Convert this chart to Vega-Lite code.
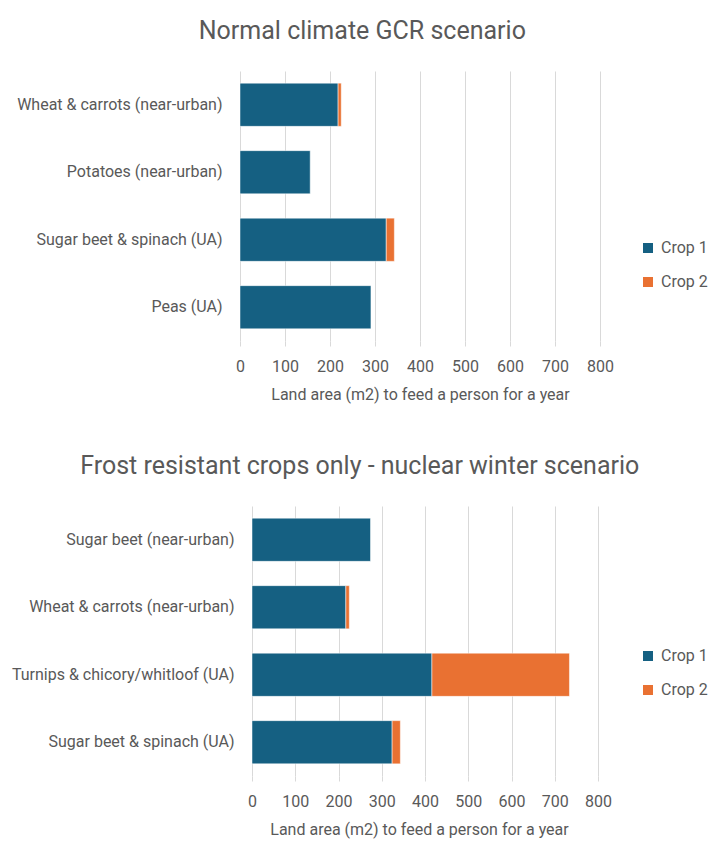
{
  "$schema": "https://vega.github.io/schema/vega-lite/v6.json",
  "background": "white",
  "padding": {"left": 11, "right": 4, "top": 19, "bottom": 6},
  "config": {
    "font": "Roboto",
    "view": {"stroke": null},
    "title": {"fontSize": 25, "fontWeight": "normal", "color": "#595959", "anchor": "middle", "frame": "bounds", "offset": 27},
    "axis": {"labelColor": "#595959", "titleColor": "#595959", "labelFontSize": 16, "titleFontSize": 16, "titleFontWeight": "normal", "gridColor": "#d9d9d9", "tickColor": "#d9d9d9", "domain": false, "labelLimit": 400},
    "legend": {"labelColor": "#595959", "labelFontSize": 16, "symbolType": "square", "symbolSize": 100, "symbolStrokeWidth": 0, "rowPadding": 18, "labelOffset": 5}
  },
  "data": {
    "values": [
      {"panel": "normal", "system": "Wheat & carrots (near-urban)", "crop": "Crop 1", "area": 218},
      {"panel": "normal", "system": "Wheat & carrots (near-urban)", "crop": "Crop 2", "area": 7},
      {"panel": "normal", "system": "Potatoes (near-urban)", "crop": "Crop 1", "area": 156},
      {"panel": "normal", "system": "Sugar beet & spinach (UA)", "crop": "Crop 1", "area": 325},
      {"panel": "normal", "system": "Sugar beet & spinach (UA)", "crop": "Crop 2", "area": 18},
      {"panel": "normal", "system": "Peas (UA)", "crop": "Crop 1", "area": 291},
      {"panel": "winter", "system": "Sugar beet (near-urban)", "crop": "Crop 1", "area": 274},
      {"panel": "winter", "system": "Wheat & carrots (near-urban)", "crop": "Crop 1", "area": 217},
      {"panel": "winter", "system": "Wheat & carrots (near-urban)", "crop": "Crop 2", "area": 8},
      {"panel": "winter", "system": "Turnips & chicory/whitloof (UA)", "crop": "Crop 1", "area": 416},
      {"panel": "winter", "system": "Turnips & chicory/whitloof (UA)", "crop": "Crop 2", "area": 318},
      {"panel": "winter", "system": "Sugar beet & spinach (UA)", "crop": "Crop 1", "area": 324},
      {"panel": "winter", "system": "Sugar beet & spinach (UA)", "crop": "Crop 2", "area": 19}
    ]
  },
  "vconcat": [
    {
      "title": "Normal climate GCR scenario",
      "width": 360,
      "height": 270,
      "transform": [{"filter": "datum.panel === 'normal'"}],
      "mark": {"type": "bar", "stroke": "white", "strokeWidth": 0.5},
      "encoding": {
        "y": {"field": "system", "type": "nominal", "sort": null, "title": null,
              "scale": {"paddingInner": 0.36, "paddingOuter": 0.18},
              "axis": {"ticks": false, "labelPadding": 18}},
        "x": {"field": "area", "type": "quantitative", "stack": "zero",
              "title": "Land area (m2) to feed a person for a year",
              "scale": {"domain": [0, 800], "nice": false},
              "axis": {"values": [0, 100, 200, 300, 400, 500, 600, 700, 800], "tickSize": 5, "labelPadding": 12, "titlePadding": 12, "labelFlush": false, "labelOverlap": false}},
        "color": {"field": "crop", "type": "nominal", "title": null,
                  "scale": {"domain": ["Crop 1", "Crop 2"], "range": ["#156082", "#E97132"]},
                  "legend": {"orient": "none", "legendX": 400, "legendY": 169}},
        "order": {"field": "crop"}
      }
    },
    {
      "title": "Frost resistant crops only - nuclear winter scenario",
      "width": 358,
      "height": 270,
      "transform": [{"filter": "datum.panel === 'winter'"}],
      "mark": {"type": "bar", "stroke": "white", "strokeWidth": 0.5},
      "encoding": {
        "y": {"field": "system", "type": "nominal", "sort": null, "title": null,
              "scale": {"paddingInner": 0.36, "paddingOuter": 0.18},
              "axis": {"ticks": false, "labelPadding": 6}},
        "x": {"field": "area", "type": "quantitative", "stack": "zero",
              "title": "Land area (m2) to feed a person for a year",
              "scale": {"domain": [-27.75, 800], "nice": false, "zero": false},
              "axis": {"values": [0, 100, 200, 300, 400, 500, 600, 700, 800], "tickSize": 5, "labelPadding": 12, "titlePadding": 12, "labelFlush": false, "labelOverlap": false}},
        "color": {"field": "crop", "type": "nominal", "title": null,
                  "scale": {"domain": ["Crop 1", "Crop 2"], "range": ["#156082", "#E97132"]},
                  "legend": {"orient": "none", "legendX": 400, "legendY": 142}},
        "order": {"field": "crop"}
      }
    }
  ],
  "spacing": 52,
  "align": "none",
  "resolve": {"legend": {"color": "independent"}}
}
